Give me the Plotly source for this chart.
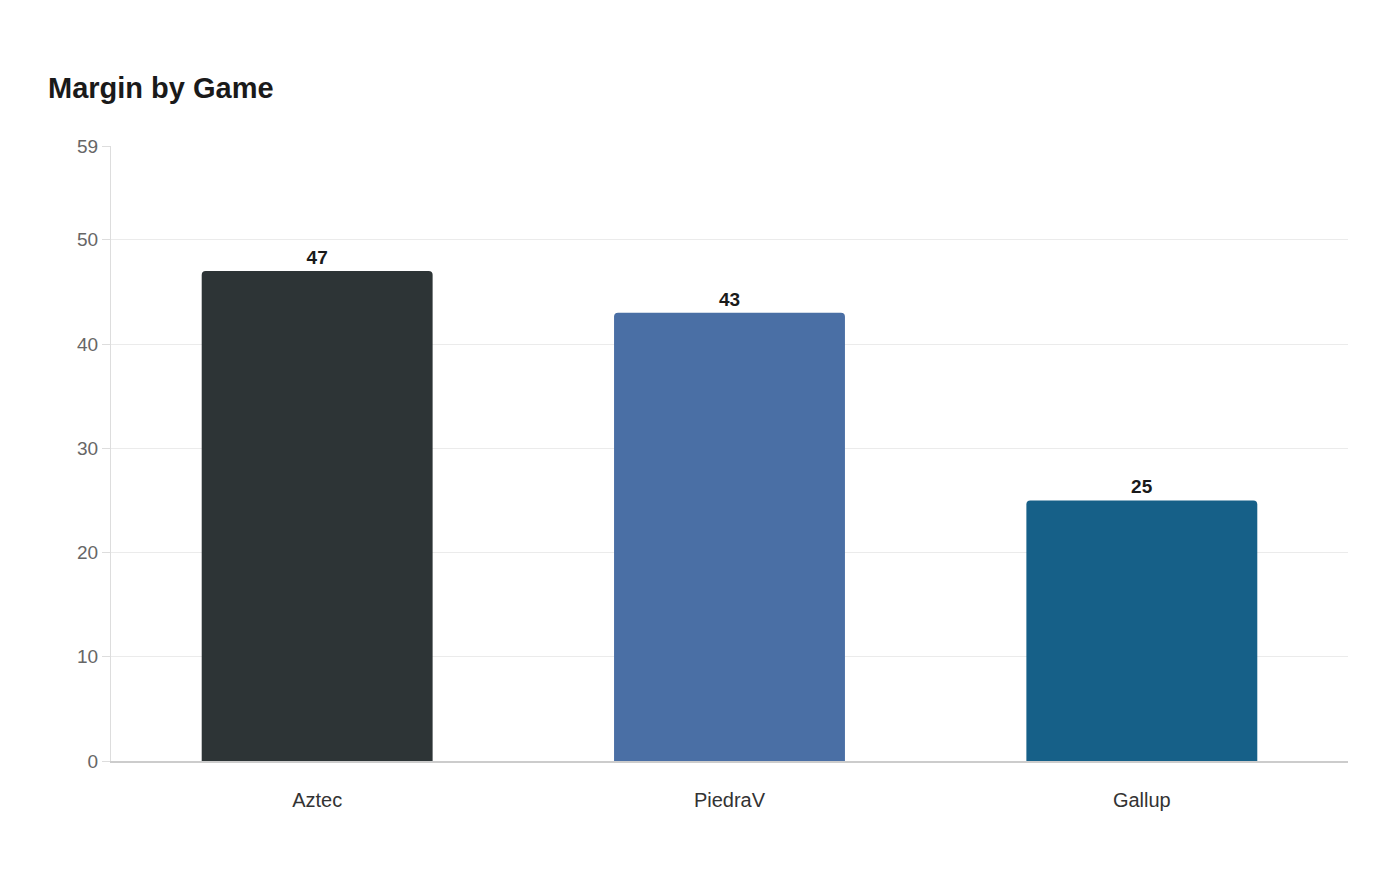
import plotly.graph_objects as go

games = ["Aztec", "PiedraV", "Gallup"]
margins = [47, 43, 25]
colors = ["#2d3436", "#4a6fa5", "#166088"]
y_ticks = [0, 10, 20, 30, 40, 50, 59]

fig = go.Figure(go.Bar(
    x=games, y=margins,
    marker=dict(color=colors, line=dict(width=0)),
    width=0.56,
    text=margins, textposition="outside",
    textfont=dict(family="Liberation Sans, Arial", size=19, color="#1a1a1a", weight="bold"),
    cliponaxis=False,
))

fig.update_layout(
    title=dict(text="<b>Margin by Game</b>", x=40 / 1400, xanchor="left", y=1 - 80 / 880, yanchor="middle",
               font=dict(family="Liberation Sans, Arial", size=29, color="#1a1a1a")),
    font=dict(family="Liberation Sans, Arial", size=19, color="#666"),
    plot_bgcolor="white", paper_bgcolor="white",
    margin=dict(l=103, r=60, t=138, b=127),
    width=1400, height=880,
    barcornerradius=4,
    showlegend=False,
)
fig.update_xaxes(showline=True, linecolor="#cccccc", linewidth=1.5, tickfont=dict(color="#333", size=20),
                 ticks="", ticklabelstandoff=20)
fig.update_yaxes(range=[0, 59], tickvals=y_ticks, gridcolor="#ebebeb", showline=True,
                 linecolor="#dddddd", linewidth=1, griddash="solid", zeroline=False,
                 ticks="outside", ticklen=8, tickcolor="#dddddd", tickfont=dict(size=19, color="#666"))

fig.write_html("out.html")
